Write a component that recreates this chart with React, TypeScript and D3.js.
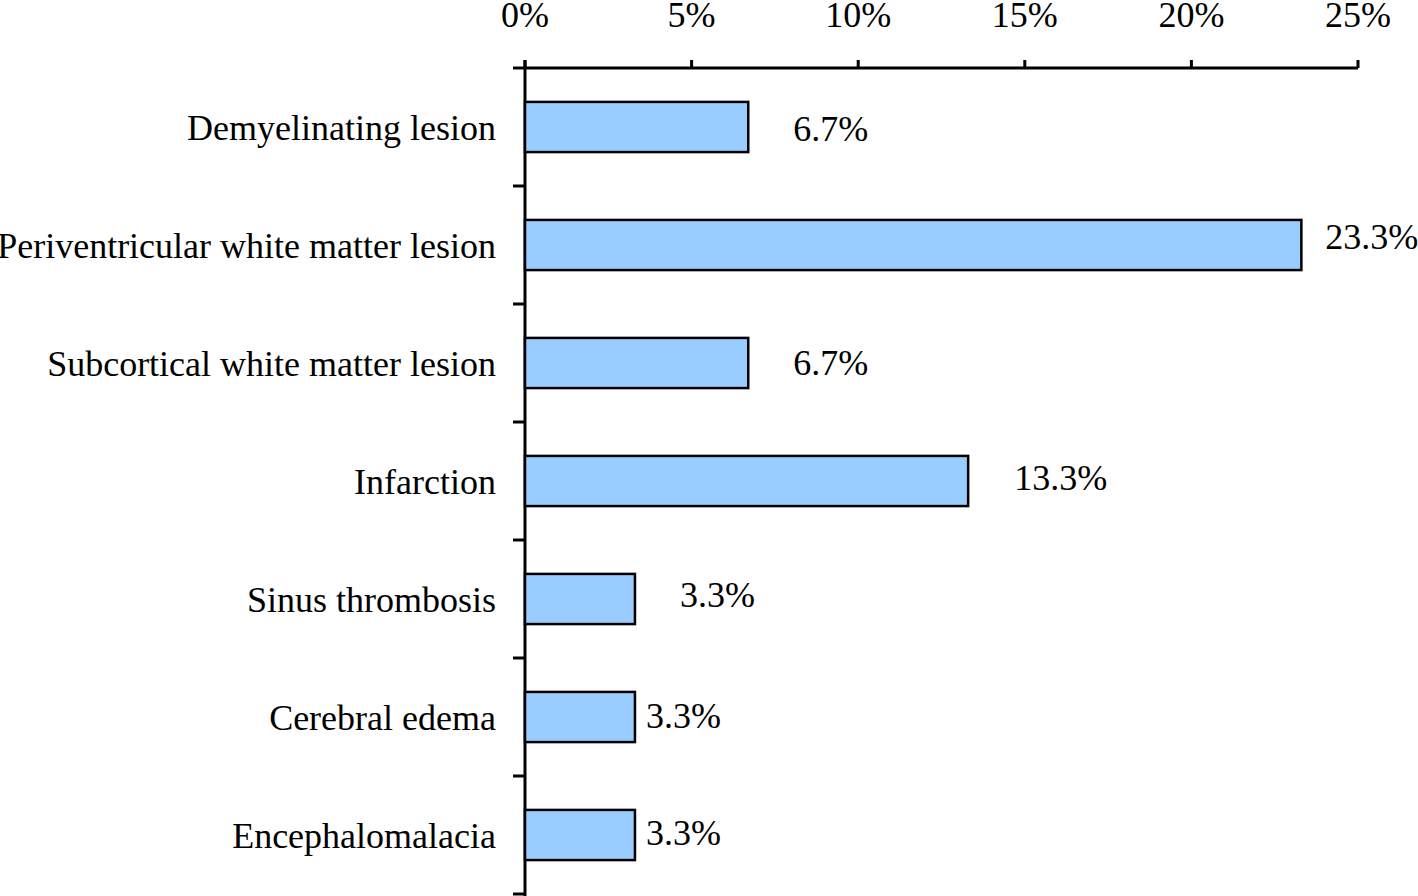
import React from 'react';
import * as d3 from 'd3';

const categories = [
  'Demyelinating lesion',
  'Periventricular white matter lesion',
  'Subcortical white matter lesion',
  'Infarction',
  'Sinus thrombosis',
  'Cerebral edema',
  'Encephalomalacia',
];
const values = [6.7, 23.3, 6.7, 13.3, 3.3, 3.3, 3.3];
const valueLabels = ['6.7%', '23.3%', '6.7%', '13.3%', '3.3%', '3.3%', '3.3%'];
const xTicks = [0, 5, 10, 15, 20, 25];

// manual nudges of the value labels, as placed in the original
const labelDx = [45, 24, 45, 46, 45, 11, 11];
const labelDy = [2, -8, 0, -3, -4, -1, -2];

const width = 1418;
const height = 896;
const margin = { top: 68, right: 60, bottom: 2, left: 525 };
const font = '"Liberation Serif", "Times New Roman", serif';
const fontSize = 36;

const App = () => {
  const x = d3.scaleLinear().domain([0, 25]).range([margin.left, 1358]);
  const y = d3.scaleBand<string>()
    .domain(categories)
    .range([margin.top, 894])
    .paddingInner(0.575)
    .paddingOuter(0.2875);
  const step = y.step();
  const bandEdges = d3.range(categories.length + 1).map(i => margin.top + i * step);

  return (
    <svg width={width} height={height} style={{ position: 'absolute', left: 0, top: 0, background: '#fff' }}>
      <g fontFamily={font} fill="#000">
        {/* top value axis */}
        <line x1={x(0)} x2={x(25)} y1={margin.top} y2={margin.top} stroke="#000" strokeWidth={3} />
        {xTicks.map(t => (
          <g key={t}>
            <line x1={x(t)} x2={x(t)} y1={margin.top} y2={margin.top - 8} stroke="#000" strokeWidth={3} />
            <text x={x(t)} y={27} textAnchor="middle" fontSize={fontSize}>{t}%</text>
          </g>
        ))}

        {/* category axis */}
        <line x1={margin.left} x2={margin.left} y1={margin.top - 8} y2={896} stroke="#000" strokeWidth={3} />
        {bandEdges.map((e, i) => (
          <line key={i} x1={margin.left - 12} x2={margin.left} y1={e} y2={e} stroke="#000" strokeWidth={3} />
        ))}

        {categories.map((c, i) => {
          const by = y(c)!;
          const bh = y.bandwidth();
          const cy = by + bh / 2;
          return (
            <g key={c}>
              <rect x={x(0)} y={by} width={x(values[i]) - x(0)} height={bh}
                fill="#99CCFF" stroke="#000" strokeWidth={2.5} />
              <text x={496} y={cy + 1} textAnchor="end" dominantBaseline="central" fontSize={fontSize}>{c}</text>
              <text x={x(values[i]) + labelDx[i]} y={cy + labelDy[i]} dominantBaseline="central" fontSize={fontSize}>
                {valueLabels[i]}
              </text>
            </g>
          );
        })}
      </g>
    </svg>
  );
};

export default App;
